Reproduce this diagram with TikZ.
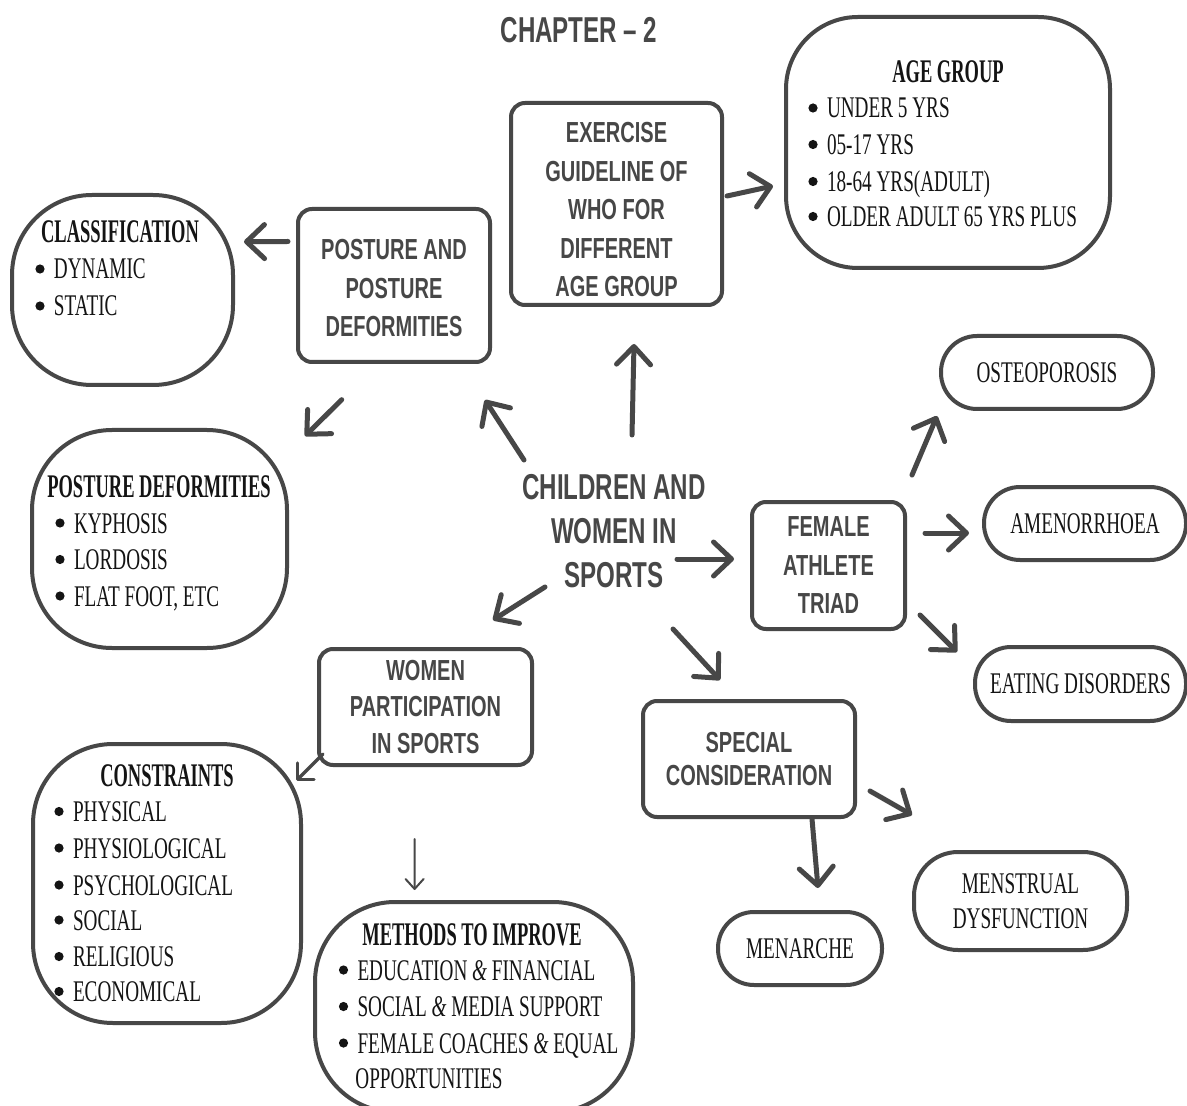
\documentclass[tikz,border=0pt]{standalone}
\usepackage{fontspec}
\usetikzlibrary{arrows.meta,calc}

% condensed faces
\newfontfamily\itemfont[FakeStretch=0.64]{Liberation Serif}
\newfontfamily\headfont[FakeStretch=0.56]{Liberation Serif}
\newfontfamily\boxfont[FakeStretch=0.69]{Liberation Sans}
\newfontfamily\bigfont[FakeStretch=0.67]{Liberation Sans}

\definecolor{linec}{HTML}{474747}
\definecolor{ink}{HTML}{141414}

% list bullet drawn as a small filled dot
\newcommand\itembul{\makebox[9.3pt][l]{\tikz[baseline=-5pt]\fill[ink] (0pt,0pt) circle (2.3pt);}}
\newcommand\amp{{\itshape\&}}

\tikzset{
  frame/.style={draw=linec, line width=2pt, inner sep=0pt},
  sqbox/.style={frame, rounded corners=7pt, text=linec, align=center,
    font={\boxfont\bfseries\fontsize{14.5}{19.25}\selectfont}},
  bigbox/.style={frame, rounded corners=40pt},
  pill/.style={frame, rounded corners=18pt, text=ink, align=center,
    font={\itemfont\fontsize{15}{17.5}\selectfont}},
  head/.style={inner sep=0pt, anchor=base, text=ink,
    font={\headfont\bfseries\fontsize{16.5}{18}\selectfont}},
  item/.style={inner sep=0pt, anchor=base west, text=ink,
    font={\itemfont\fontsize{15}{18}\selectfont}},
  link/.style={draw=linec, line width=2.5pt, line cap=round,
    -{Straight Barb[length=9pt,width=17pt,round]}},
  midlink/.style={draw=linec, line width=1.6pt, line cap=round,
    -{Straight Barb[length=6pt,width=12pt,round]}},
  thinlink/.style={draw=linec, line width=1pt, line cap=round,
    -{Straight Barb[length=5pt,width=9pt,round]}},
}

\begin{document}
\begin{tikzpicture}[x=0.5pt,y=-0.5pt]
\useasboundingbox (0,0) rectangle (1187,1106);
\fill[white] (0,0) rectangle (1187,1106);
\clip (0,0) rectangle (1187,1106);

% title
\node[inner sep=0pt, anchor=base, text=linec,
  font={\bigfont\bfseries\fontsize{18}{22}\selectfont}] (title) at (579,43) {CHAPTER – 2};

% central topic
\node[inner sep=0pt, align=center, text=linec,
  font={\bigfont\bfseries\fontsize{18}{22}\selectfont}] (ctr) at (614,531)
  {CHILDREN AND\\WOMEN IN\\SPORTS};

% square-cornered topic boxes
\node[sqbox, minimum width=105.5pt, minimum height=101pt] (ex) at (616.5,204)
  {\rule{0pt}{16pt}EXERCISE\\GUIDELINE OF\\WHO FOR\\DIFFERENT\\AGE GROUP};
\node[sqbox, minimum width=96pt, minimum height=76.5pt] (pos) at (394,285.5)
  {\rule{0pt}{13pt}POSTURE AND\\POSTURE\\DEFORMITIES};
\node[sqbox, minimum width=76.5pt, minimum height=63.5pt] (fem) at (828.5,565.5)
  {FEMALE\\ATHLETE\\TRIAD};
\node[sqbox, minimum width=106pt, minimum height=58pt,
  font={\boxfont\bfseries\fontsize{14.5}{16.5}\selectfont}] (spc) at (749,759)
  {SPECIAL\\CONSIDERATION};
\node[sqbox, minimum width=106.5pt, minimum height=58pt,
  font={\boxfont\bfseries\fontsize{14.5}{18.25}\selectfont}] (wom) at (425.5,707)
  {WOMEN\\PARTICIPATION\\IN SPORTS};

% rounded outcome boxes
\node[pill, minimum width=106pt, minimum height=36.5pt] (ost) at (1047,372.5) {OSTEOPOROSIS};
\node[pill, minimum width=101pt, minimum height=36.5pt] (amen) at (1085,523.5) {AMENORRHOEA};
\node[pill, minimum width=105.5pt, minimum height=37pt] (eat) at (1080.5,684) {EATING DISORDERS};
\node[pill, rounded corners=22pt, minimum width=106.5pt, minimum height=49pt] (mens) at (1020.5,901)
  {MENSTRUAL\\DYSFUNCTION};
\node[pill, minimum width=82pt, minimum height=36.5pt] (mena) at (800,948.5) {MENARCHE};

% list boxes
\node[bigbox, rounded corners=36pt, minimum width=162pt, minimum height=125.5pt] (age) at (948,142.5) {};
\node[head] (ageh) at (948,83) {AGE GROUP};
\node[item] (age1) at (808,118) {\itembul UNDER 5 YRS};
\node[item] (age2) at (808,154.5) {\itembul 05-17 YRS};
\node[item] (age3) at (808,191.5) {\itembul 18-64 YRS(ADULT)};
\node[item] (age4) at (808,226.5) {\itembul OLDER ADULT 65 YRS PLUS};

\node[bigbox, minimum width=110.5pt, minimum height=95pt] (cls) at (122.5,290) {};
\node[head] (clsh) at (120,243) {CLASSIFICATION};
\node[item] (cls1) at (35,279) {\itembul DYNAMIC};
\node[item] (cls2) at (35,316) {\itembul STATIC};

\node[bigbox, minimum width=127.5pt, minimum height=109pt] (pd) at (159.5,539) {};
\node[head] (pdh) at (159,497) {POSTURE DEFORMITIES};
\node[item] (pd1) at (55,533) {\itembul KYPHOSIS};
\node[item] (pd2) at (55,569.5) {\itembul LORDOSIS};
\node[item] (pd3) at (55,606) {\itembul FLAT FOOT, ETC};

\node[bigbox, minimum width=134pt, minimum height=139.5pt] (con) at (167,883.5) {};
\node[head] (conh) at (167,786.5) {CONSTRAINTS};
\node[item] (con1) at (54,821.5) {\itembul PHYSICAL};
\node[item] (con2) at (54,858) {\itembul PHYSIOLOGICAL};
\node[item] (con3) at (54,895) {\itembul PSYCHOLOGICAL};
\node[item] (con4) at (54,930) {\itembul SOCIAL};
\node[item] (con5) at (54,966.5) {\itembul RELIGIOUS};
\node[item] (con6) at (54,1001.5) {\itembul ECONOMICAL};

\node[bigbox, minimum width=159pt, minimum height=105pt] (met) at (474,1007) {};
\node[head] (meth) at (472,945) {METHODS TO IMPROVE};
\node[item] (met1) at (338.5,980) {\itembul EDUCATION \amp{} FINANCIAL};
\node[item] (met2) at (338.5,1016.5) {\itembul SOCIAL \amp{} MEDIA SUPPORT};
\node[item] (met3) at (338.5,1053) {\itembul FEMALE COACHES \amp{} EQUAL};
\node[item] (met4) at (355,1088) {OPPORTUNITIES};

% connectors
\draw[link] ($(ex.east)+(3,-8)$) -- ($(age.west)+(-11,43.5)$);
\draw[link] ($(pos.west)+(-8,-44)$) -- ($(cls.east)+(9,-48.3)$);
\draw[link] ($(pos.south)+(-52.3,35.7)$) -- ($(pd.north east)+(16,8)$);
\draw[link] ($(ctr)+(-90,-71)$) -- ($(pos.south east)+(-7,36)$);
\draw[link] ($(ctr)+(18,-96)$) -- ($(ex.south)+(17.5,37)$);
\draw[link] ($(ctr)+(63,28)$) -- ($(fem.west)+(-16,-6.5)$);
\draw[link] ($(ctr)+(-69,56)$) -- ($(wom.north)+(67.5,-27)$);
\draw[link] ($(ctr)+(59,98)$) -- ($(spc.north)+(-29,-19)$);
\draw[link] ($(fem.north east)+(5,-25)$) -- ($(ost.south west)+(-2,5)$);
\draw[link] ($(fem.east)+(18,-32.5)$) -- ($(amen.west)+(-13,9.5)$);
\draw[link] ($(fem.south east)+(13,-16)$) -- ($(eat.west)+(-16,-32)$);
\draw[link] ($(spc.east)+(13,32)$) -- ($(mens.north west)+(0,-35)$);
\draw[link] ($(spc.south)+(63,0)$) -- ($(mena.north)+(18,-22)$);
\draw[midlink] ($(wom.south west)+(6,-13)$) -- ($(con.north east)+(-7,39)$);
\draw[thinlink] ($(wom.south)+(-11,72)$) -- ($(met.north)+(-59.4,-10)$);
\end{tikzpicture}
\end{document}
